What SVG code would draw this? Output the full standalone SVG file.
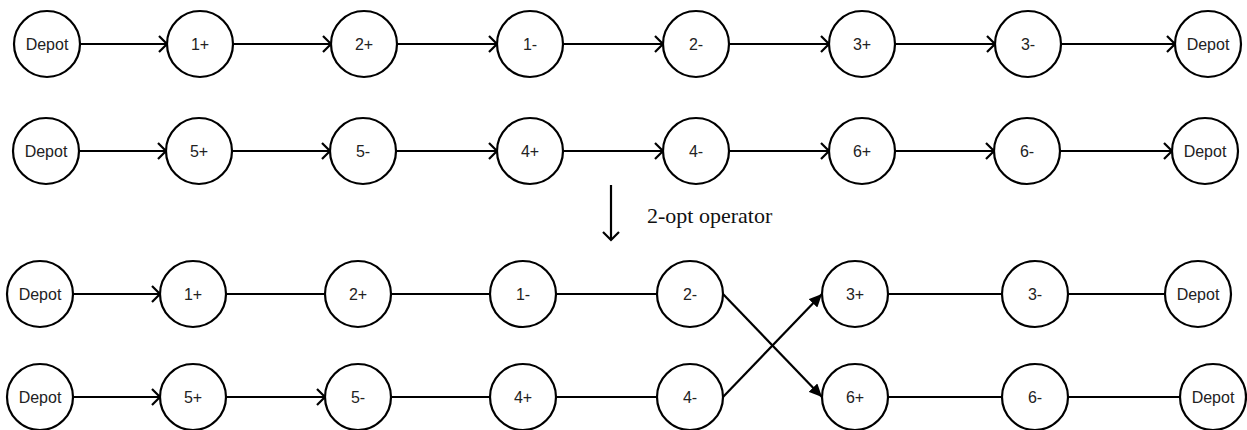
<svg xmlns="http://www.w3.org/2000/svg" width="1247" height="430" viewBox="0 0 1247 430">
<style>
.node circle{fill:#fff;stroke:#000;stroke-width:2.2}
.node text{font-family:"Liberation Sans",Arial,sans-serif;font-size:16px;fill:#222;text-anchor:middle;dominant-baseline:central}
.edge{stroke:#000;stroke-width:2.2;fill:none}
.open{marker-end:url(#open)}
.fill{marker-end:url(#solid)}
.label{font-family:"Liberation Serif","Times New Roman",serif;font-size:22px;fill:#111}
</style>
<defs>
<marker id="open" markerUnits="userSpaceOnUse" markerWidth="12" markerHeight="20" viewBox="0 0 12 20" refX="10" refY="10" orient="auto">
<path d="M2,2 L10,10 L2,18" fill="none" stroke="#000" stroke-width="2.2"/>
</marker>
<marker id="solid" markerUnits="userSpaceOnUse" markerWidth="14" markerHeight="12" viewBox="0 0 14 12" refX="13" refY="6" orient="auto">
<path d="M0,0 L13,6 L0,12 Z" fill="#000"/>
</marker>
</defs>
<g id="connectors">
<line class="edge open" x1="81" y1="44" x2="167" y2="44"/>
<line class="edge open" x1="233" y1="44" x2="331" y2="44"/>
<line class="edge open" x1="397" y1="44" x2="497" y2="44"/>
<line class="edge open" x1="563" y1="44" x2="663" y2="44"/>
<line class="edge open" x1="729" y1="44" x2="829" y2="44"/>
<line class="edge open" x1="895" y1="44" x2="995" y2="44"/>
<line class="edge open" x1="1061" y1="44" x2="1175" y2="44"/>
<line class="edge open" x1="80" y1="151" x2="166" y2="151"/>
<line class="edge open" x1="232" y1="151" x2="330" y2="151"/>
<line class="edge open" x1="396" y1="151" x2="497" y2="151"/>
<line class="edge open" x1="563" y1="151" x2="663" y2="151"/>
<line class="edge open" x1="729" y1="151" x2="829" y2="151"/>
<line class="edge open" x1="895" y1="151" x2="994" y2="151"/>
<line class="edge open" x1="1060" y1="151" x2="1172" y2="151"/>
<line class="edge open" x1="611" y1="185" x2="611" y2="240"/>
<line class="edge open" x1="74" y1="294" x2="160" y2="294"/>
<line class="edge" x1="226" y1="294" x2="325" y2="294"/>
<line class="edge" x1="391" y1="294" x2="490" y2="294"/>
<line class="edge" x1="556" y1="294" x2="657" y2="294"/>
<line class="edge" x1="888" y1="294" x2="1002" y2="294"/>
<line class="edge" x1="1068" y1="294" x2="1165" y2="294"/>
<line class="edge open" x1="74" y1="397" x2="160" y2="397"/>
<line class="edge open" x1="226" y1="397" x2="325" y2="397"/>
<line class="edge" x1="391" y1="397" x2="490" y2="397"/>
<line class="edge" x1="556" y1="397" x2="657" y2="397"/>
<line class="edge" x1="888" y1="397" x2="1002" y2="397"/>
<line class="edge" x1="1068" y1="397" x2="1180" y2="397"/>
<line class="edge fill" x1="723" y1="294" x2="822" y2="397"/>
<line class="edge fill" x1="723" y1="397" x2="822" y2="294"/>
</g>
<g id="r1-depot-start" class="node"><circle cx="47" cy="44" r="33"/><text x="47" y="44">Depot</text></g>
<g id="r1-1p" class="node"><circle cx="200" cy="44" r="33"/><text x="200" y="44">1+</text></g>
<g id="r1-2p" class="node"><circle cx="364" cy="44" r="33"/><text x="364" y="44">2+</text></g>
<g id="r1-1m" class="node"><circle cx="530" cy="44" r="33"/><text x="530" y="44">1-</text></g>
<g id="r1-2m" class="node"><circle cx="696" cy="44" r="33"/><text x="696" y="44">2-</text></g>
<g id="r1-3p" class="node"><circle cx="862" cy="44" r="33"/><text x="862" y="44">3+</text></g>
<g id="r1-3m" class="node"><circle cx="1028" cy="44" r="33"/><text x="1028" y="44">3-</text></g>
<g id="r1-depot-end" class="node"><circle cx="1208" cy="44" r="33"/><text x="1208" y="44">Depot</text></g>

<g id="r2-depot-start" class="node"><circle cx="46" cy="151" r="33"/><text x="46" y="151">Depot</text></g>
<g id="r2-5p" class="node"><circle cx="199" cy="151" r="33"/><text x="199" y="151">5+</text></g>
<g id="r2-5m" class="node"><circle cx="363" cy="151" r="33"/><text x="363" y="151">5-</text></g>
<g id="r2-4p" class="node"><circle cx="530" cy="151" r="33"/><text x="530" y="151">4+</text></g>
<g id="r2-4m" class="node"><circle cx="696" cy="151" r="33"/><text x="696" y="151">4-</text></g>
<g id="r2-6p" class="node"><circle cx="862" cy="151" r="33"/><text x="862" y="151">6+</text></g>
<g id="r2-6m" class="node"><circle cx="1027" cy="151" r="33"/><text x="1027" y="151">6-</text></g>
<g id="r2-depot-end" class="node"><circle cx="1205" cy="151" r="33"/><text x="1205" y="151">Depot</text></g>

<text class="label" x="647" y="223">2-opt operator</text>

<g id="r3-depot-start" class="node"><circle cx="40" cy="294" r="33"/><text x="40" y="294">Depot</text></g>
<g id="r3-1p" class="node"><circle cx="193" cy="294" r="33"/><text x="193" y="294">1+</text></g>
<g id="r3-2p" class="node"><circle cx="358" cy="294" r="33"/><text x="358" y="294">2+</text></g>
<g id="r3-1m" class="node"><circle cx="523" cy="294" r="33"/><text x="523" y="294">1-</text></g>
<g id="r3-2m" class="node"><circle cx="690" cy="294" r="33"/><text x="690" y="294">2-</text></g>
<g id="r3-3p" class="node"><circle cx="855" cy="294" r="33"/><text x="855" y="294">3+</text></g>
<g id="r3-3m" class="node"><circle cx="1035" cy="294" r="33"/><text x="1035" y="294">3-</text></g>
<g id="r3-depot-end" class="node"><circle cx="1198" cy="294" r="33"/><text x="1198" y="294">Depot</text></g>

<g id="r4-depot-start" class="node"><circle cx="40" cy="397" r="33"/><text x="40" y="397">Depot</text></g>
<g id="r4-5p" class="node"><circle cx="193" cy="397" r="33"/><text x="193" y="397">5+</text></g>
<g id="r4-5m" class="node"><circle cx="358" cy="397" r="33"/><text x="358" y="397">5-</text></g>
<g id="r4-4p" class="node"><circle cx="523" cy="397" r="33"/><text x="523" y="397">4+</text></g>
<g id="r4-4m" class="node"><circle cx="690" cy="397" r="33"/><text x="690" y="397">4-</text></g>
<g id="r4-6p" class="node"><circle cx="855" cy="397" r="33"/><text x="855" y="397">6+</text></g>
<g id="r4-6m" class="node"><circle cx="1035" cy="397" r="33"/><text x="1035" y="397">6-</text></g>
<g id="r4-depot-end" class="node"><circle cx="1213" cy="397" r="33"/><text x="1213" y="397">Depot</text></g>
</svg>
